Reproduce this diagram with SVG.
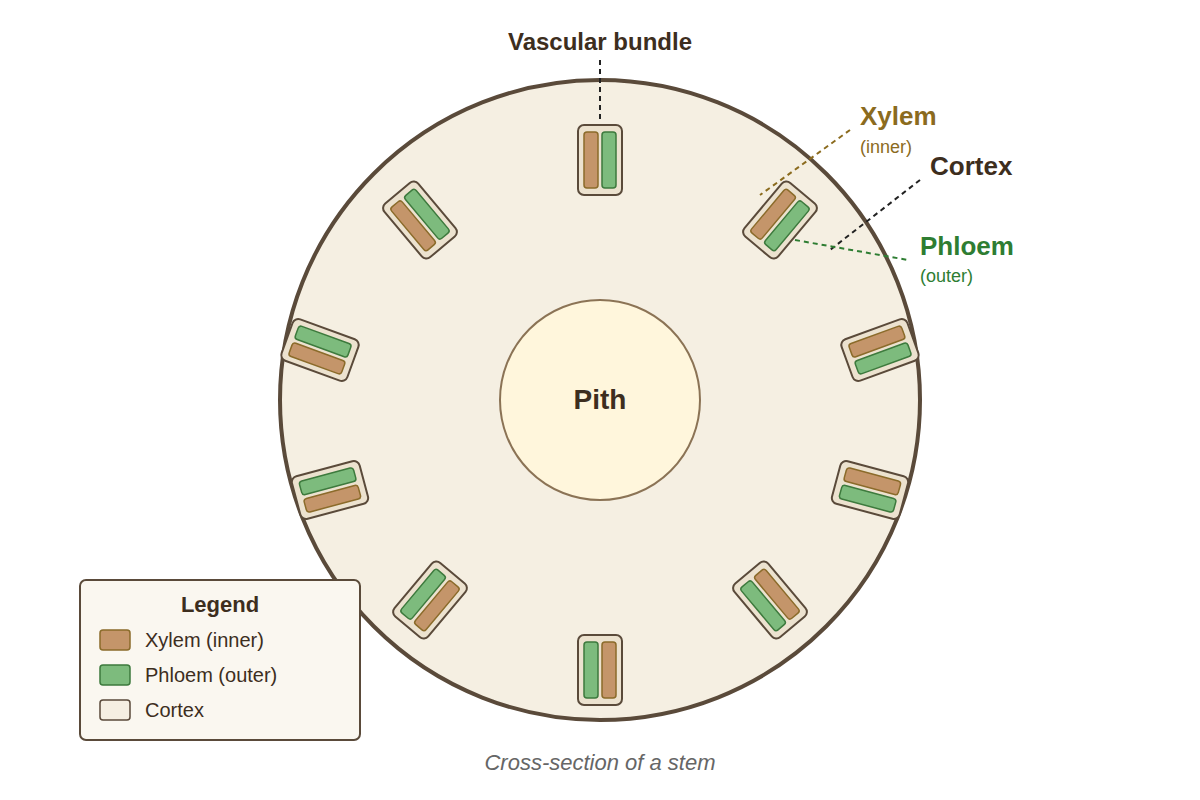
<svg xmlns="http://www.w3.org/2000/svg" width="1200" height="800" viewBox="0 0 1200 800">
<style>
text{font-family:"Liberation Sans",Arial,sans-serif}
.box{fill:#ece2cf;stroke:#5a4a3a;stroke-width:2}
.xy{fill:#c4956a;stroke:#8b6b2a;stroke-width:1.5}
.ph{fill:#7dbb7d;stroke:#3d7a3d;stroke-width:1.5}
</style>
<defs>
<g id="vb">
<rect class="box" x="-22" y="-35" width="44" height="70" rx="6"/>
<rect class="xy" x="-16" y="-28" width="14" height="56" rx="3"/>
<rect class="ph" x="2" y="-28" width="14" height="56" rx="3"/>
</g>
</defs>
<rect width="1200" height="800" fill="#fff"/>
<circle cx="600" cy="400" r="320" fill="#f5efe2" stroke="#5a4a3a" stroke-width="4"/>
<g id="pith"><circle cx="600" cy="400" r="100" fill="#fff6dc" stroke="#8b7355" stroke-width="2"/>
<text x="600" y="409" text-anchor="middle" font-size="28" font-weight="bold" fill="#3d2e1e">Pith</text></g>
<g id="bundles">
<use href="#vb" transform="translate(600,160)"/>
<use href="#vb" transform="translate(780,220) rotate(40)"/>
<use href="#vb" transform="translate(880,350) rotate(70)"/>
<use href="#vb" transform="translate(870,490) rotate(105)"/>
<use href="#vb" transform="translate(770,600) rotate(140)"/>
<use href="#vb" transform="translate(600,670) rotate(180)"/>
<use href="#vb" transform="translate(430,600) rotate(220)"/>
<use href="#vb" transform="translate(330,490) rotate(255)"/>
<use href="#vb" transform="translate(320,350) rotate(290)"/>
<use href="#vb" transform="translate(420,220) rotate(320)"/>
</g>
<g id="connectors" fill="none" stroke-width="2" stroke-dasharray="5,4">
<line x1="600" y1="60" x2="600" y2="122" stroke="#222"/>
<line x1="850" y1="130" x2="760" y2="195" stroke="#8b6b1e"/>
<line x1="920" y1="180" x2="830" y2="250" stroke="#222"/>
<line x1="795" y1="240" x2="908" y2="260" stroke="#2e7d32"/>
</g>
<g id="labels">
<text x="600" y="50" text-anchor="middle" font-size="24" font-weight="bold" fill="#3d2e1e">Vascular bundle</text>
<text x="860" y="125" font-size="26" font-weight="bold" fill="#8b6b1e">Xylem</text>
<text x="860" y="153" font-size="18" fill="#8b6b1e">(inner)</text>
<text x="930" y="175" font-size="26" font-weight="bold" fill="#3d2e1e">Cortex</text>
<text x="920" y="255" font-size="26" font-weight="bold" fill="#2e7d32">Phloem</text>
<text x="920" y="282" font-size="18" fill="#2e7d32">(outer)</text>
<text x="600" y="770" text-anchor="middle" font-size="22" font-style="italic" fill="#666">Cross-section of a stem</text>
</g>
<g id="legend">
<rect x="80" y="580" width="280" height="160" rx="6" fill="#faf7f0" stroke="#5a4a3a" stroke-width="2"/>
<text x="220" y="612" text-anchor="middle" font-size="22" font-weight="bold" fill="#3d2e1e">Legend</text>
<rect class="xy" x="100" y="630" width="30" height="20" rx="3"/>
<text x="145" y="647" font-size="20" fill="#3d2e1e">Xylem (inner)</text>
<rect class="ph" x="100" y="665" width="30" height="20" rx="3"/>
<text x="145" y="682" font-size="20" fill="#3d2e1e">Phloem (outer)</text>
<rect x="100" y="700" width="30" height="20" rx="3" fill="#f5efe2" stroke="#5a4a3a" stroke-width="1.5"/>
<text x="145" y="717" font-size="20" fill="#3d2e1e">Cortex</text>
</g>
</svg>
